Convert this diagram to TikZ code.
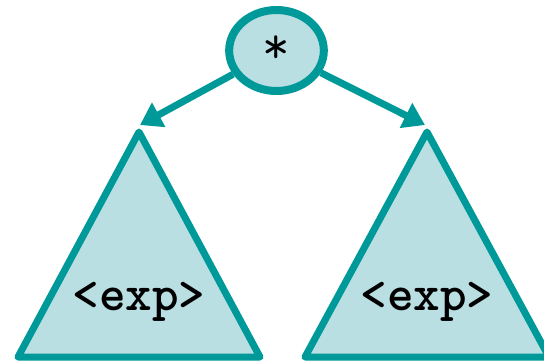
\documentclass[tikz,border=0pt]{standalone}
\usepackage{fontspec}
\usetikzlibrary{arrows.meta,shapes.geometric}
\definecolor{treeline}{RGB}{0,153,153}
\definecolor{treefill}{RGB}{185,223,227}

\begin{document}
\begin{tikzpicture}[
  x=0.75pt,
  y=-0.75pt,
  font=\ttfamily\bfseries\fontsize{38}{40}\selectfont,
  >={Triangle[length=16pt,width=20pt]},
  op/.style={ellipse, draw=treeline, fill=treefill, line width=6pt, minimum width=71pt, minimum height=60.75pt, inner sep=0pt},
  subtree/.style={draw=treeline, fill=treefill, line width=5.25pt, line join=round},
  link/.style={->, draw=treeline, line width=5.25pt}
]
  \useasboundingbox (0,0) rectangle (544,362);

  \draw[subtree] (139,132) coordinate (ltop) -- (260,357) -- (18,357) -- cycle;
  \draw[subtree] (427,132) coordinate (rtop) -- (549,357) -- (305,357) -- cycle;
  \node[anchor=base] (lexp) at (139,310) {<exp>};
  \node[anchor=base] (rexp) at (427,310) {<exp>};

  \node[op] (root) at (276.5,50.5) {};
  \node[font=\ttfamily\mdseries\fontsize{40}{40}\selectfont] (star) at (276.5,50) {*};

  \coordinate (ltip) at (140,125);
  \coordinate (rtip) at (425,125);
  \draw[link] (root) -- (ltip);
  \draw[link] (root) -- (rtip);
\end{tikzpicture}
\end{document}
